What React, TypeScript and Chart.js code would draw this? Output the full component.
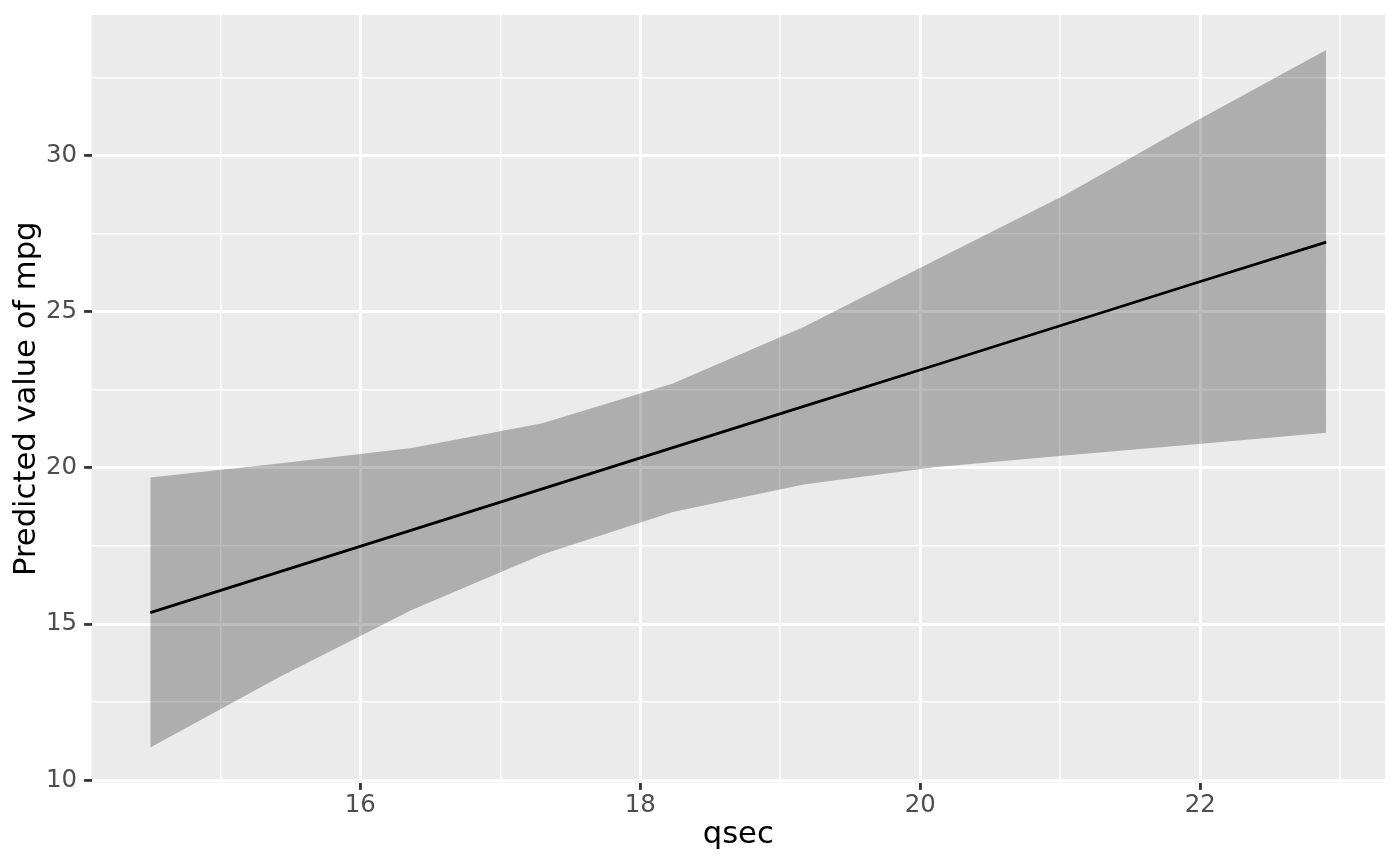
import React, { useEffect, useRef } from "react";
import { Chart, registerables } from "chart.js";

Chart.register(...registerables);

const qsec = [14.5, 15.433, 16.367, 17.3, 18.233, 19.167, 20.1, 21.033, 21.967, 22.9];
const predicted = [15.37, 16.69, 18.01, 19.33, 20.65, 21.97, 23.28, 24.6, 25.92, 27.23];
const upperCI = [19.69, 20.15, 20.64, 21.43, 22.7, 24.51, 26.63, 28.74, 31.1, 33.38];
const lowerCI = [11.05, 13.33, 15.45, 17.23, 18.59, 19.47, 20.02, 20.4, 20.76, 21.13];

const xTicks = [15, 16, 17, 18, 19, 20, 21, 22, 23];
const xLabels = [16, 18, 20, 22];
const yTicks = [10, 12.5, 15, 17.5, 20, 22.5, 25, 27.5, 30, 32.5];
const yLabels = [10, 15, 20, 25, 30];

const xTitle = "qsec";
const yTitle = "Predicted value of mpg";

const FONT = "'DejaVu Sans', 'Liberation Sans', sans-serif";

const panelBg = {
  id: "panelBg",
  beforeDraw(chart: any) {
    const { ctx, chartArea } = chart;
    ctx.save();
    ctx.fillStyle = "#EBEBEB";
    ctx.fillRect(chartArea.left, chartArea.top, chartArea.right - chartArea.left, chartArea.bottom - chartArea.top);
    ctx.restore();
  },
};

const zeroPad = (scale: any) => {
  scale.paddingTop = 0;
  scale.paddingBottom = 0;
  scale.paddingLeft = 0;
  scale.paddingRight = 0;
};

export default function App() {
  const ref = useRef<HTMLCanvasElement>(null);

  useEffect(() => {
    if (!ref.current) return;
    const pts = (ys: number[]) => qsec.map((x, i) => ({ x, y: ys[i] }));
    const chart = new Chart(ref.current, {
      type: "line",
      data: {
        datasets: [
          {
            label: "predicted",
            data: pts(predicted),
            borderColor: "#000000",
            borderWidth: 2.8,
            pointRadius: 0,
            fill: false,
            tension: 0,
            order: 0,
          },
          {
            label: "upper",
            data: pts(upperCI),
            borderColor: "rgba(0,0,0,0)",
            borderWidth: 1,
            pointRadius: 0,
            backgroundColor: "rgba(0,0,0,0.26)",
            fill: "+1",
            tension: 0,
            order: 1,
          },
          {
            label: "lower",
            data: pts(lowerCI),
            borderColor: "rgba(0,0,0,0)",
            borderWidth: 1,
            pointRadius: 0,
            fill: false,
            tension: 0,
            order: 2,
          },
        ],
      },
      options: {
        responsive: false,
        animation: false,
        events: [],
        layout: { padding: { left: 0, top: 15, right: 15, bottom: 0 } },
        plugins: {
          legend: { display: false },
          tooltip: { enabled: false },
        },
        scales: {
          x: {
            type: "linear",
            min: 14.08,
            max: 23.32,
            afterBuildTicks: (scale: any) => {
              scale.ticks = xTicks.map((v) => ({ value: v }));
            },
            afterFit: (scale: any) => {
              scale.height = 83.5;
              zeroPad(scale);
            },
            border: { display: false },
            grid: {
              color: "#FFFFFF",
              lineWidth: (ctx: any) => (xLabels.includes(ctx.tick?.value) ? 2.9 : 1.5),
              tickColor: (ctx: any) => (xLabels.includes(ctx.tick?.value) ? "#333333" : "rgba(0,0,0,0)"),
              tickWidth: 2.8,
              tickLength: 7.4,
              drawTicks: true,
            },
            ticks: {
              autoSkip: false,
              maxRotation: 0,
              padding: 1,
              color: "#4D4D4D",
              font: { family: FONT, size: 24.4 },
              callback: (v: any) => (xLabels.includes(Number(v)) ? String(v) : ""),
            },
            title: {
              display: true,
              text: xTitle,
              color: "#000000",
              font: { family: FONT, size: 30.6 },
              padding: { top: 0, bottom: 12.5 },
            },
          },
          y: {
            type: "linear",
            min: 9.93,
            max: 34.5,
            afterBuildTicks: (scale: any) => {
              scale.ticks = yTicks.map((v) => ({ value: v }));
            },
            afterFit: (scale: any) => {
              scale.width = 91.5;
              zeroPad(scale);
            },
            border: { display: false },
            grid: {
              color: "#FFFFFF",
              lineWidth: (ctx: any) => (yLabels.includes(ctx.tick?.value) ? 2.9 : 1.5),
              tickColor: (ctx: any) => (yLabels.includes(ctx.tick?.value) ? "#333333" : "rgba(0,0,0,0)"),
              tickWidth: 2.8,
              tickLength: 7.4,
              drawTicks: true,
            },
            ticks: {
              autoSkip: false,
              padding: 7,
              color: "#4D4D4D",
              font: { family: FONT, size: 24.4 },
              callback: (v: any) => (yLabels.includes(Number(v)) ? String(v) : ""),
            },
            title: {
              display: true,
              text: yTitle,
              color: "#000000",
              font: { family: FONT, size: 30.6 },
              padding: { top: 8.3, bottom: 0 },
            },
          },
        },
      },
      plugins: [panelBg],
    });
    return () => chart.destroy();
  }, []);

  return (
    <div style={{ position: "fixed", left: 0, top: 0, width: 1400, height: 866, background: "#FFFFFF" }}>
      <canvas ref={ref} width={1400} height={866} style={{ width: 1400, height: 866, display: "block" }} />
    </div>
  );
}
